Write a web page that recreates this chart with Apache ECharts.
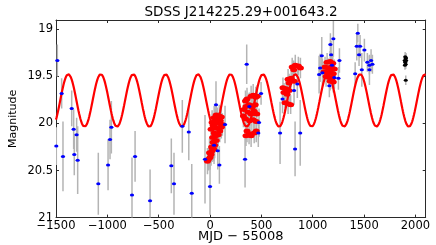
<!DOCTYPE html>
<html><head><meta charset="utf-8">
<script src="https://cdn.jsdelivr.net/npm/echarts@6/dist/echarts.min.js"></script>
<style>html,body{margin:0;padding:0;background:#fff}#c{width:436px;height:245px}</style>
</head><body><div id="c"></div>
<script>
const titleText = 'SDSS J214225.29+001643.2';
const xTicks = [-1500, -1000, -500, 0, 500, 1000, 1500, 2000];
const yTicks = [19, 19.5, 20, 20.5, 21];

// blue photometry (MJD-55008, mag, error)
const blueMjd = [-1487,-1497,-1445,-1432,-1347,-1328,-1322,-1299,-1289,-1088,-993,-974,-961,-760,-730,-584,-377,-351,-270,-207,-178,-49,0,39,58,75,91,146,341,357,383,477,470,497,682,706,818,850,828,878,1062,1072,1088,1094,1162,1172,1179,1188,1201,1211,1250,1260,1413,1429,1439,1451,1461,1478,1503,1532,1552,1552,1568,1581];
const blueMag = [19.33,20.24,19.68,20.35,19.84,20.06,20.33,20.12,20.39,20.64,20.44,20.17,20.04,20.76,20.35,20.82,20.45,20.64,20.03,20.09,20.74,20.38,20.67,20.23,19.80,20.29,20.44,20.01,20.38,19.37,19.82,19.99,20.10,19.68,20.10,19.74,19.65,19.58,20.27,20.10,19.48,19.41,19.28,19.46,19.60,19.16,19.27,19.38,19.10,19.51,19.52,19.33,19.47,19.18,19.04,19.27,19.18,19.43,19.22,19.35,19.43,19.38,19.33,19.37];
const blueErr = [0.17,0.20,0.16,0.37,0.19,0.21,0.22,0.18,0.36,0.33,0.27,0.21,0.28,0.40,0.27,0.33,0.29,0.33,0.28,0.30,0.31,0.47,0.30,0.20,0.25,0.20,0.20,0.20,0.30,0.21,0.15,0.15,0.15,0.12,0.33,0.15,0.15,0.15,0.29,0.35,0.20,0.15,0.20,0.15,0.12,0.12,0.15,0.12,0.19,0.12,0.12,0.13,0.12,0.15,0.10,0.12,0.12,0.18,0.12,0.10,0.16,0.10,0.12,0.10];

// red photometry
const redMjd = [-25,-15,0,10,-5,20,35,15,45,30,60,25,55,80,40,95,10,65,110,30,85,120,50,100,70,40,90,60,110,20,
  330,325,345,360,400,420,445,460,380,350,410,440,370,400,430,455,345,385,420,450,360,380,400,430,450,350,
  800,830,860,880,815,760,790,820,770,710,740,770,720,750,730,760,785,
  1140,1170,1195,1120,1150,1180,1210,1110,1140,1170,1200,1130,1160,1190,1170,1200];
const redMag = [20.40,20.38,20.36,20.33,20.31,20.29,20.27,20.25,20.23,20.20,20.18,20.15,20.13,20.12,20.10,20.08,20.06,20.05,20.04,20.02,20.00,20.01,19.98,19.97,19.95,19.94,19.92,19.91,19.93,19.99,
  19.85,19.92,19.76,19.74,19.71,19.70,19.72,19.71,19.80,19.82,19.83,19.80,19.88,19.90,19.87,19.90,19.95,19.97,19.96,19.98,20.08,20.11,20.13,20.10,20.08,20.13,
  19.40,19.38,19.39,19.41,19.43,19.53,19.52,19.55,19.57,19.62,19.63,19.65,19.67,19.69,19.78,19.79,19.80,
  19.35,19.34,19.36,19.40,19.41,19.40,19.42,19.45,19.46,19.45,19.47,19.50,19.51,19.52,19.55,19.56];
const redErr = [0.14,0.12,0.13,0.12,0.15,0.12,0.13,0.12,0.14,0.12,0.12,0.13,0.12,0.12,0.14,0.12,0.13,0.12,0.12,0.13,0.12,0.12,0.14,0.12,0.12,0.13,0.12,0.12,0.12,0.13,
  0.12,0.12,0.11,0.12,0.11,0.12,0.11,0.12,0.12,0.11,0.12,0.11,0.12,0.12,0.11,0.12,0.12,0.11,0.12,0.11,0.12,0.11,0.12,0.11,0.12,0.11,
  0.10,0.11,0.10,0.11,0.10,0.11,0.10,0.11,0.10,0.11,0.10,0.11,0.10,0.11,0.10,0.11,0.10,
  0.10,0.11,0.10,0.11,0.10,0.11,0.10,0.11,0.10,0.11,0.10,0.11,0.10,0.11,0.10,0.11];

// black photometry
const blackMjd = [1900,1905,1895,1910,1900,1905,1898,1908,1906];
const blackMag = [19.29,19.31,19.33,19.33,19.35,19.37,19.38,19.30,19.54];
const blackErr = [0.05,0.05,0.05,0.05,0.05,0.05,0.05,0.05,0.05];

// sinusoidal model: [mean mag, amplitude, period (days), epoch of brightest]
const modelParams = [19.755, 0.28, 315.8, -1380];
const modelRange = [-1500, 2100];

const pts = (xs, ys) => xs.map((x, i) => [x, ys[i]]);
const bars = (xs, ys, es) => xs.map((x, i) => [x, ys[i] - es[i], ys[i] + es[i]]);
const modelCurve = [];
for (let t = modelRange[0]; t <= modelRange[1]; t += 3) {
  modelCurve.push([t, modelParams[0] - modelParams[1] * Math.cos(2 * Math.PI * (t - modelParams[3]) / modelParams[2])]);
}
const errData = bars(blueMjd, blueMag, blueErr).concat(bars(redMjd, redMag, redErr), bars(blackMjd, blackMag, blackErr));

const FONT = 'DejaVu Sans';
const axisCol = '#2a2a2a';
const fmtX = v => xTicks.indexOf(v) < 0 ? '' : (v < 0 ? '\u2212' + Math.abs(v) : String(v));

const chart = echarts.init(document.getElementById('c'), null, {renderer: 'canvas'});
const xBase = {type: 'value', min: -1500, max: 2100, interval: 500, splitLine: {show: false},
  axisLine: {show: true, onZero: false, lineStyle: {color: axisCol, width: 1}},
  axisTick: {show: true, inside: true, length: 3, lineStyle: {color: axisCol}}};
const yBase = {type: 'value', min: 18.9, max: 21, inverse: true, splitLine: {show: false},
  axisLine: {show: true, onZero: false, lineStyle: {color: axisCol, width: 1}},
  axisTick: {show: true, inside: true, length: 3, customValues: yTicks, lineStyle: {color: axisCol}}};
chart.setOption({
  animation: false,
  backgroundColor: '#fff',
  textStyle: {fontFamily: FONT},
  grid: {left: 56, right: 10.3, top: 20, bottom: 27.4, containLabel: false, outerBoundsMode: 'none'},
  graphic: [{type: 'text', x: 241, y: 12, style: {text: titleText, fill: '#000', font: '13.5px "DejaVu Sans"', textAlign: 'center', textVerticalAlign: 'middle'}}],
  xAxis: [
    Object.assign({}, xBase, {position: 'bottom',
      name: 'MJD \u2212 55008', nameLocation: 'middle', nameGap: 12, nameMoveOverlap: false,
      nameTextStyle: {color: '#000', fontSize: 13, fontFamily: FONT, lineHeight: 14},
      axisLabel: {show: true, margin: 2, color: '#000', fontSize: 11.5, fontFamily: FONT, formatter: fmtX, showMaxLabel: false}}),
    Object.assign({}, xBase, {position: 'top', axisLabel: {show: false}})
  ],
  yAxis: [
    Object.assign({}, yBase, {position: 'left',
      name: 'Magnitude', nameLocation: 'middle', nameGap: 37, nameRotate: 90, nameMoveOverlap: false,
      nameTextStyle: {color: '#000', fontSize: 11, fontFamily: FONT},
      axisLabel: {show: true, margin: 3, color: '#000', fontSize: 11.5, fontFamily: FONT, customValues: yTicks}}),
    Object.assign({}, yBase, {position: 'right', axisLabel: {show: false}})
  ],
  series: [
    {type: 'custom', name: 'err', clip: true, z: 1, data: errData, encode: {x: 0, y: [1, 2]},
      renderItem: (params, api) => {
        const a = api.coord([api.value(0), api.value(1)]);
        const b = api.coord([api.value(0), api.value(2)]);
        return {type: 'line', shape: {x1: a[0], y1: a[1], x2: b[0], y2: b[1]}, style: {stroke: '#b4b4b4', lineWidth: 1.5}};
      }},
    {type: 'line', name: 'model', z: 2, data: modelCurve, showSymbol: false, symbol: 'none', clip: true,
      lineStyle: {color: '#ff0000', width: 2.2}},
    {type: 'scatter', name: 'red', z: 3, data: pts(redMjd, redMag), symbol: 'circle', symbolSize: [7, 5],
      itemStyle: {color: '#ff0000', opacity: 1}},
    {type: 'scatter', name: 'blue', z: 4, data: pts(blueMjd, blueMag), symbol: 'circle', symbolSize: [4.2, 3],
      itemStyle: {color: '#0000ff', opacity: 1}},
    {type: 'scatter', name: 'black', z: 4, data: pts(blackMjd, blackMag), symbol: 'circle', symbolSize: [4, 3],
      itemStyle: {color: '#000000', opacity: 1}}
  ]
});
</script></body></html>
